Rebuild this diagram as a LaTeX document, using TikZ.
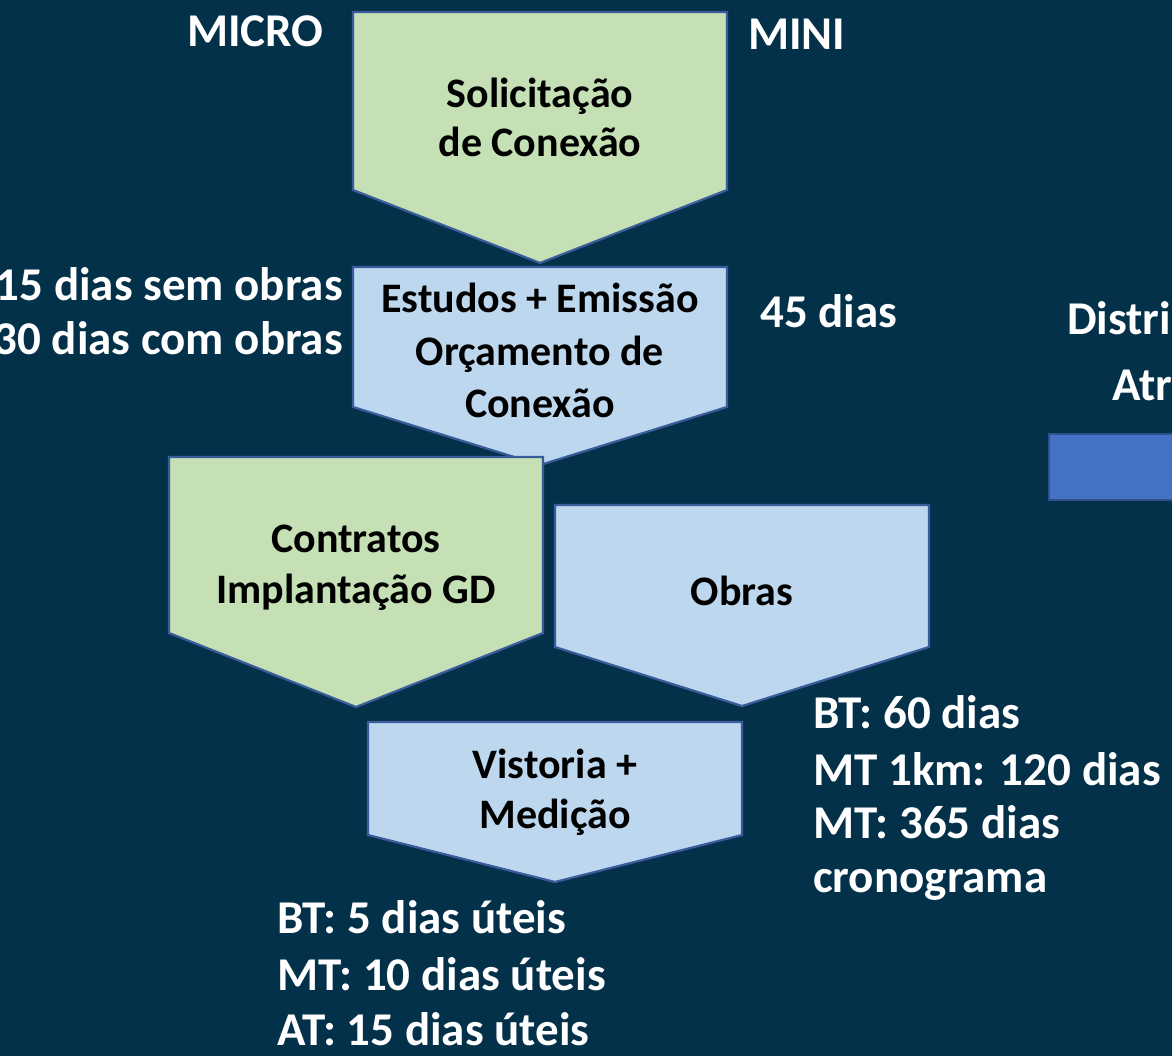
\documentclass[tikz,border=0pt]{standalone}
\usepackage{fontspec}
\setmainfont{Carlito}
\definecolor{bgnavy}{HTML}{04314A}
\definecolor{boxgreen}{HTML}{C5E0B4}
\definecolor{boxblue}{HTML}{BDD7EE}
\definecolor{edgeblue}{HTML}{3A5C9C}
\definecolor{barblue}{HTML}{4472C4}
\definecolor{baredge}{HTML}{2F528F}
\begin{document}
\begin{tikzpicture}[x=1pt,y=-1pt,
  chev/.style={draw=edgeblue,line width=2.2pt,line join=miter},
  intext/.style={font=\fontsize{42}{51}\selectfont\bfseries,text=black,align=center,inner sep=0pt},
  outtext/.style={font=\fontsize{47}{56}\selectfont\bfseries,text=white,align=left,inner sep=0pt,anchor=base west}]
\useasboundingbox (0,0) rectangle (1172,1056);
\fill[bgnavy] (0,0) rectangle (1172,1056);
% chevrons
\draw[chev,fill=boxgreen] (353,12) -- (727,12) -- (727,190) -- (540,263) -- (353,190) -- cycle;
\draw[chev,fill=boxblue] (353,267) -- (727,267) -- (727,407) -- (540,465) -- (353,407) -- cycle;
\draw[chev,fill=boxgreen] (169,457) -- (543,457) -- (543,633) -- (356,707) -- (169,633) -- cycle;
\draw[chev,fill=boxblue] (555,505) -- (929,505) -- (929,647) -- (742,706) -- (555,647) -- cycle;
\draw[chev,fill=boxblue] (368,722) -- (742,722) -- (742,835) -- (555,882) -- (368,835) -- cycle;
% blue bar
\draw[fill=barblue,draw=baredge,line width=1.5pt] (1049,434) rectangle (1190,500);
% inner labels
\node[intext,anchor=base] (sol1) at (540,108) {Solicitação};
\node[intext,anchor=base] (sol2) at (540,157) {de Conexão};
\node[intext,anchor=base] (est1) at (540,313) {Estudos + Emissão};
\node[intext,anchor=base] (est2) at (540,366) {Orçamento de};
\node[intext,anchor=base] (est3) at (540,417) {Conexão};
\node[intext,anchor=base] (con1) at (356,552) {Contratos};
\node[intext,anchor=base] (con2) at (356,603) {Implantação GD};
\node[intext,anchor=base] (obr) at (742,605) {Obras};
\node[intext,anchor=base] (vis1) at (555,778) {Vistoria +};
\node[intext,anchor=base] (vis2) at (555,828) {Medição};
% outer labels
\node[outtext] (micro) at (187,47) {MICRO};
\node[outtext] (mini) at (748,50) {MINI};
\node[outtext,anchor=base east] (sem) at (343,301) {15 dias sem obras};
\node[outtext,anchor=base east] (com) at (343,355) {30 dias com obras};
\node[outtext] (d45) at (760,328) {45 dias};
\node[outtext] (distri) at (1067,335) {Distri};
\node[outtext] (atr) at (1112,400) {Atr};
\node[outtext] (bt60) at (813,728) {BT: 60 dias};
\node[outtext] (mt120) at (813,785) {MT 1km: 120 dias};
\node[outtext] (mt365) at (813,838) {MT: 365 dias};
\node[outtext] (crono) at (813,892) {cronograma};
\node[outtext] (bt5) at (277,933) {BT: 5 dias úteis};
\node[outtext] (mt10) at (277,990) {MT: 10 dias úteis};
\node[outtext] (at15) at (277,1045) {AT: 15 dias úteis};
\end{tikzpicture}
\end{document}
